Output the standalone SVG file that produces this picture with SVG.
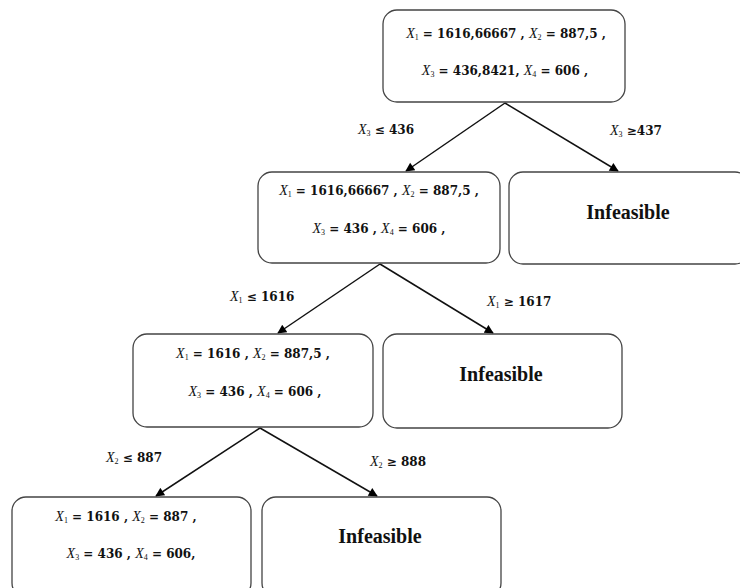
<svg xmlns="http://www.w3.org/2000/svg" width="740" height="588" viewBox="0 0 740 588">
<defs>
<marker id="ah" viewBox="0 0 10 10" refX="9" refY="5" markerWidth="10" markerHeight="9" markerUnits="userSpaceOnUse" orient="auto">
<path d="M0,0 L10,5 L0,10 z" fill="#000"/>
</marker>
<style>
.box{fill:#fff;stroke:#444;stroke-width:1.3}
.t{font-family:"DejaVu Serif",serif;font-size:12px;font-weight:bold;fill:#111;text-anchor:middle}
.v{font-family:"Liberation Serif",serif;font-size:14px;font-style:italic;font-weight:normal}
.s{font-family:"Liberation Serif",serif;font-size:8px;font-weight:normal}
.inf{font-family:"Liberation Serif","DejaVu Serif",serif;font-size:20px;font-weight:bold;fill:#111;text-anchor:middle}
.lbl{font-family:"DejaVu Serif",serif;font-size:12px;font-weight:bold;fill:#111}
.c{stroke:#111;stroke-width:1.5;fill:none;marker-end:url(#ah)}
</style>
</defs>
<g id="connectors">
<line class="c" x1="505" y1="103" x2="406" y2="171"/>
<line class="c" x1="505" y1="103" x2="618" y2="171"/>
<line class="c" x1="380" y1="264" x2="278" y2="333"/>
<line class="c" x1="380" y1="264" x2="493" y2="333"/>
<line class="c" x1="260" y1="428" x2="156" y2="496"/>
<line class="c" x1="260" y1="428" x2="377" y2="496"/>
<text class="lbl" x="358" y="134"><tspan class="v">X</tspan><tspan class="s" dy="2">3</tspan><tspan dy="-2"> ≤ 436</tspan></text>
<text class="lbl" x="610" y="135"><tspan class="v">X</tspan><tspan class="s" dy="2">3</tspan><tspan dy="-2"> ≥437</tspan></text>
<text class="lbl" x="230" y="301"><tspan class="v">X</tspan><tspan class="s" dy="2">1</tspan><tspan dy="-2"> ≤ 1616</tspan></text>
<text class="lbl" x="487" y="306"><tspan class="v">X</tspan><tspan class="s" dy="2">1</tspan><tspan dy="-2"> ≥ 1617</tspan></text>
<text class="lbl" x="106" y="462"><tspan class="v">X</tspan><tspan class="s" dy="2">2</tspan><tspan dy="-2"> ≤ 887</tspan></text>
<text class="lbl" x="370" y="466"><tspan class="v">X</tspan><tspan class="s" dy="2">2</tspan><tspan dy="-2"> ≥ 888</tspan></text>
</g>
<g id="n1">
<rect class="box" x="383" y="10" width="242" height="92" rx="14"/>
<text class="t" x="506" y="38"><tspan class="v">X</tspan><tspan class="s" dy="2">1</tspan><tspan dy="-2"> =  1616,66667 , </tspan><tspan class="v">X</tspan><tspan class="s" dy="2">2</tspan><tspan dy="-2"> = 887,5 ,</tspan></text>
<text class="t" x="505" y="75"><tspan class="v">X</tspan><tspan class="s" dy="2">3</tspan><tspan dy="-2"> = 436,8421, </tspan><tspan class="v">X</tspan><tspan class="s" dy="2">4</tspan><tspan dy="-2"> = 606 ,</tspan></text>
</g>
<g id="n2">
<rect class="box" x="258" y="172" width="242" height="91" rx="14"/>
<text class="t" x="379" y="195"><tspan class="v">X</tspan><tspan class="s" dy="2">1</tspan><tspan dy="-2"> =  1616,66667 , </tspan><tspan class="v">X</tspan><tspan class="s" dy="2">2</tspan><tspan dy="-2"> = 887,5 ,</tspan></text>
<text class="t" x="379" y="233"><tspan class="v">X</tspan><tspan class="s" dy="2">3</tspan><tspan dy="-2"> = 436 , </tspan><tspan class="v">X</tspan><tspan class="s" dy="2">4</tspan><tspan dy="-2"> = 606 ,</tspan></text>
</g>
<g id="n3">
<rect class="box" x="509" y="172" width="240" height="92" rx="14"/>
<text class="inf" x="628" y="219">Infeasible</text>
</g>
<g id="n4">
<rect class="box" x="133" y="334" width="240" height="93" rx="14"/>
<text class="t" x="253" y="358"><tspan class="v">X</tspan><tspan class="s" dy="2">1</tspan><tspan dy="-2"> =  1616 , </tspan><tspan class="v">X</tspan><tspan class="s" dy="2">2</tspan><tspan dy="-2"> = 887,5 ,</tspan></text>
<text class="t" x="255" y="396"><tspan class="v">X</tspan><tspan class="s" dy="2">3</tspan><tspan dy="-2"> = 436 , </tspan><tspan class="v">X</tspan><tspan class="s" dy="2">4</tspan><tspan dy="-2"> = 606 ,</tspan></text>
</g>
<g id="n5">
<rect class="box" x="383" y="334" width="239" height="94" rx="14"/>
<text class="inf" x="501" y="381">Infeasible</text>
</g>
<g id="n6">
<rect class="box" x="12" y="497" width="239" height="100" rx="14"/>
<text class="t" x="126" y="521"><tspan class="v">X</tspan><tspan class="s" dy="2">1</tspan><tspan dy="-2"> =  1616 , </tspan><tspan class="v">X</tspan><tspan class="s" dy="2">2</tspan><tspan dy="-2"> = 887 ,</tspan></text>
<text class="t" x="131" y="558"><tspan class="v">X</tspan><tspan class="s" dy="2">3</tspan><tspan dy="-2"> = 436 , </tspan><tspan class="v">X</tspan><tspan class="s" dy="2">4</tspan><tspan dy="-2"> = 606,</tspan></text>
</g>
<g id="n7">
<rect class="box" x="262" y="497" width="239" height="100" rx="14"/>
<text class="inf" x="380" y="543">Infeasible</text>
</g>
</svg>
